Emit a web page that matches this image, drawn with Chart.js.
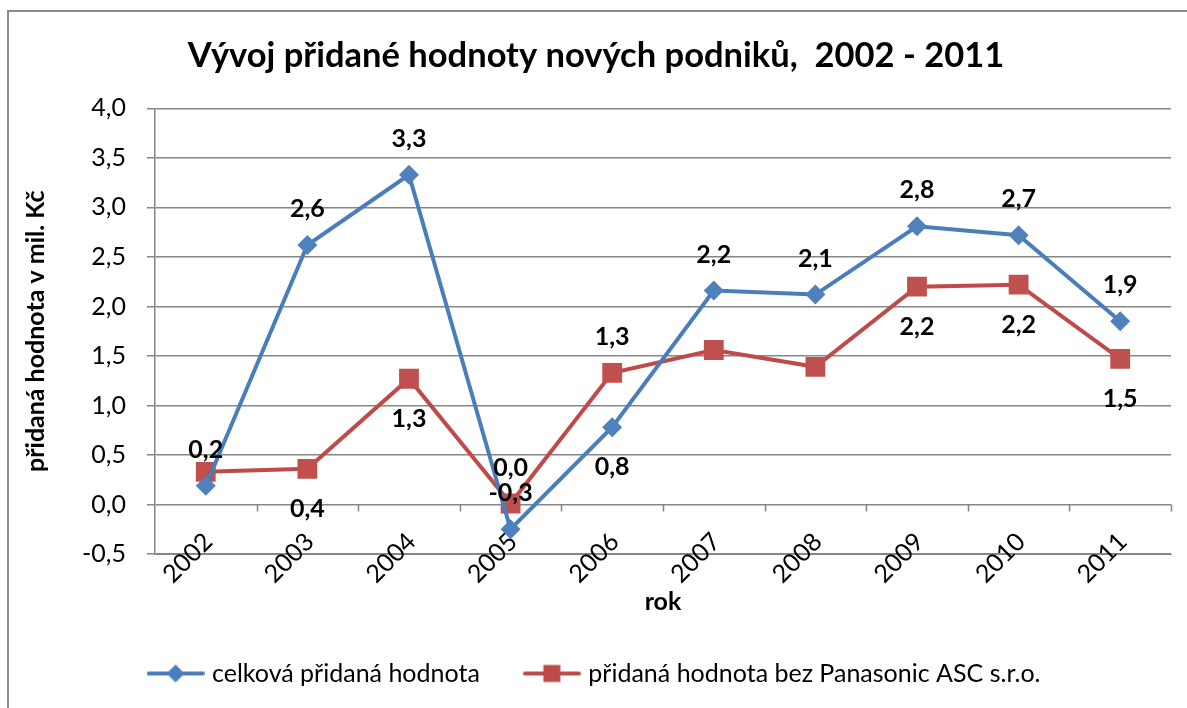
<!DOCTYPE html>
<html>
<head>
<meta charset="utf-8">
<script src="https://cdn.jsdelivr.net/npm/chart.js@4"></script>
<style>
body{margin:0;background:#fff;overflow:hidden;}
#frame{position:absolute;left:7px;top:10px;width:1200px;height:720px;border:2px solid #8c8c8c;box-sizing:border-box;}
#wrap{position:absolute;left:0;top:0;width:1187px;height:708px;}
</style>
</head>
<body>
<div id="frame"></div>
<div id="wrap"><canvas id="myChart"></canvas></div>
<script>
'use strict';
const years=['2002','2003','2004','2005','2006','2007','2008','2009','2010','2011'];
const celkova=[0.19,2.62,3.33,-0.25,0.78,2.16,2.12,2.81,2.72,1.85];
const bezPanasonic=[0.33,0.36,1.27,0.01,1.33,1.56,1.39,2.20,2.22,1.47];
const yTicks=[-0.5,0,0.5,1,1.5,2,2.5,3,3.5,4];

// where the value labels sit: 'a' above, 'b' below, null none
const celkovaLabelPos=['a','a','a','a','b','a','a','a','a','a'];
const bezLabelPos=[null,'b','b','a','a',null,null,'b','b','b'];

const FONT='Lato, "Open Sans", sans-serif';
const blue='#4A7EBB';
const red='#BE4B48';

function fmt(v){
    return v.toFixed(1).replace('.',',');
}

function legendIcon(color,marker){
    let c=document.createElement('canvas');
    c.width=58;c.height=22;
    let g=c.getContext('2d');
    g.strokeStyle=color;g.lineWidth=4;g.lineCap='round';
    g.beginPath();g.moveTo(2,11);g.lineTo(56,11);g.stroke();
    g.fillStyle=color;
    g.beginPath();
    if(marker==='diamond'){
        g.moveTo(29,2);g.lineTo(38,11);g.lineTo(29,20);g.lineTo(20,11);
    }else{
        g.rect(20.5,2.5,17,17);
    }
    g.closePath();g.fill();
    return c;
}

const valueLabels={
    id:'valueLabels',
    afterDatasetsDraw(chart){
        const ctx=chart.ctx;
        ctx.save();
        ctx.font='bold 25px '+FONT;
        ctx.fillStyle='#000';
        ctx.textAlign='center';
        ctx.textBaseline='middle';
        chart.data.datasets.forEach((ds,di)=>{
            const meta=chart.getDatasetMeta(di);
            const pos=di===0?celkovaLabelPos:bezLabelPos;
            meta.data.forEach((pt,i)=>{
                if(!pos[i]) return;
                const dy=pos[i]==='a'?-36:40;
                ctx.fillText(fmt(ds.data[i]),pt.x,pt.y+dy);
            });
        });
        ctx.restore();
    }
};

// tick marks on the zero line and the slanted year labels that straddle the bottom axis
const xAxisExtras={
    id:'xAxisExtras',
    beforeDatasetsDraw(chart){
        const x=chart.scales.x, y=chart.scales.y;
        const y0=Math.round(y.getPixelForValue(0))+0.5;
        const w=(x.right-x.left)/years.length;
        const ctx=chart.ctx;
        ctx.save();
        ctx.strokeStyle='#868686';ctx.lineWidth=1.5;
        ctx.beginPath();
        for(let i=1;i<=years.length;i++){
            const px=Math.round(x.left+i*w)+0.5;
            ctx.moveTo(px,y0);ctx.lineTo(px,y0+7);
        }
        ctx.stroke();
        ctx.font='25px '+FONT;
        ctx.fillStyle='#000';
        ctx.textAlign='center';
        ctx.textBaseline='middle';
        years.forEach((yr,i)=>{
            ctx.save();
            ctx.translate(x.getPixelForValue(i)-18,x.top+4);
            ctx.rotate(-Math.PI/4);
            ctx.fillText(yr,0,0);
            ctx.restore();
        });
        ctx.restore();
    }
};

const ctx=document.getElementById('myChart').getContext('2d');
const myChart=new Chart(ctx,{
    type:'line',
    data:{
        labels:years,
        datasets:[{
            label:'celková přidaná hodnota',
            data:celkova,
            borderColor:blue,
            backgroundColor:'#4F81BD',
            borderWidth:4,
            pointStyle:'rectRot',
            pointRadius:10,
            pointBorderWidth:0,
            pointBackgroundColor:'#4F81BD',
            tension:0
        },{
            label:'přidaná hodnota bez Panasonic ASC s.r.o.',
            data:bezPanasonic,
            borderColor:red,
            backgroundColor:'#C0504D',
            borderWidth:4,
            pointStyle:'rect',
            pointRadius:14,
            pointBorderWidth:0,
            pointBackgroundColor:'#C0504D',
            tension:0
        }]
    },
    options:{
        responsive:true,
        maintainAspectRatio:false,
        animation:false,
        layout:{padding:{left:21,right:16,top:18,bottom:12}},
        plugins:{
            title:{
                display:true,
                text:'Vývoj přidané hodnoty nových podniků,  2002 - 2011',
                color:'#000',
                font:{family:FONT,size:34.5,weight:'bold'},
                padding:{top:17,bottom:32}
            },
            legend:{
                position:'bottom',
                labels:{
                    color:'#000',
                    font:{family:FONT,size:25},
                    usePointStyle:true,
                    pointStyleWidth:48,
                    padding:48,
                    generateLabels(chart){
                        return [
                            {text:chart.data.datasets[0].label,pointStyle:legendIcon(blue,'diamond'),fillStyle:blue,strokeStyle:blue,lineWidth:0,datasetIndex:0},
                            {text:chart.data.datasets[1].label,pointStyle:legendIcon(red,'square'),fillStyle:red,strokeStyle:red,lineWidth:0,datasetIndex:1}
                        ];
                    }
                }
            },
            tooltip:{enabled:false}
        },
        scales:{
            x:{
                offset:true,
                grid:{display:false},
                border:{display:true,color:'#868686'},
                ticks:{display:false},
                title:{display:true,text:'rok',color:'#000',font:{family:FONT,size:25,weight:'bold'},padding:{top:25,bottom:-4}}
            },
            y:{
                min:-0.5,
                max:4,
                afterBuildTicks(scale){
                    scale.ticks=yTicks.map(v=>({value:v}));
                },
                grid:{color:'#868686',lineWidth:1.5,tickLength:8,drawTicks:true},
                border:{display:true,color:'#868686',width:1.5},
                ticks:{color:'#000',font:{family:FONT,size:25},padding:21,callback:v=>fmt(v)},
                title:{display:true,text:'přidaná hodnota v mil. Kč',color:'#000',font:{family:FONT,size:25,weight:'bold'},padding:{top:0,bottom:10}}
            }
        }
    },
    plugins:[valueLabels,xAxisExtras]
});
</script>
</body>
</html>
